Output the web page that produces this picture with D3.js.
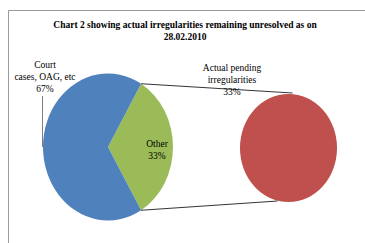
<!DOCTYPE html>
<html><head><meta charset="utf-8">
<script src="https://cdn.jsdelivr.net/npm/d3@7"></script>
<style>body{margin:0;background:#fff}svg{display:block}
svg text{font-family:'Liberation Serif','Times New Roman',Times,'DejaVu Serif',serif !important;}</style>
</head><body>
<script>
const titleLines = ["Chart 2 showing actual irregularities remaining unresolved as on", "28.02.2010"];
const primaryCategories = ["Other", "Court cases, OAG, etc"];
const primaryValues = [33, 67];
const primaryColors = ["#9BBB59", "#4F81BD"];
const secondaryCategories = ["Actual pending irregularities"];
const secondaryValues = [33];
const secondaryColors = ["#C0504D"];

const W = 365, H = 243;
const svg = d3.select("body").append("svg").attr("width", W).attr("height", H);

// frame
svg.append("line").attr("x1", 8.5).attr("y1", 10.5).attr("x2", W).attr("y2", 10.5).attr("stroke", "#9a9a9a").attr("stroke-width", 1);
svg.append("line").attr("x1", 8.5).attr("y1", 10.5).attr("x2", 8.5).attr("y2", H).attr("stroke", "#9a9a9a").attr("stroke-width", 1);

// title
const t = svg.append("text").attr("text-anchor", "middle").style("font-size", "9.5px").style("font-weight", "bold").attr("fill", "#000");
titleLines.forEach((l, i) => t.append("tspan").attr("x", 185).attr("y", 28 + i * 12).text(l));

// primary pie
const total = d3.sum(primaryValues);
const frac0 = primaryValues[0] / total;
const start = Math.PI / 2 - frac0 * Math.PI;
const pie = d3.pie().sort(null).startAngle(start).endAngle(start + 2 * Math.PI);
const cx = 108, cy = 147, r = 65, sy = 73.5 / 65;
const arcs = pie(primaryValues);
const arc = d3.arc().innerRadius(0).outerRadius(r);
const g = svg.append("g").attr("transform", `translate(${cx},${cy}) scale(1,${sy})`);
g.selectAll("path").data(arcs).join("path").attr("d", arc).attr("fill", (d, i) => primaryColors[i]);

// secondary pie
const cx2 = 288.5, cy2 = 148, r2 = 48.5, sy2 = 54 / 48.5;
const pie2 = d3.pie().sort(null);
const g2 = svg.append("g").attr("transform", `translate(${cx2},${cy2}) scale(1,${sy2})`);
g2.selectAll("path").data(pie2(secondaryValues)).join("path")
  .attr("d", d3.arc().innerRadius(0).outerRadius(r2)).attr("fill", (d, i) => secondaryColors[i]);

// connector lines
const pt = a => [cx + r * Math.sin(a), cy - r * sy * Math.cos(a)];
const p1 = pt(arcs[0].startAngle), p2 = pt(arcs[0].endAngle);
svg.append("line").attr("x1", p1[0]).attr("y1", p1[1]).attr("x2", cx2 + 4).attr("y2", cy2 - r2 * sy2 - 1)
  .attr("stroke", "#000").attr("stroke-width", 0.8);
svg.append("line").attr("x1", p2[0]).attr("y1", p2[1]).attr("x2", cx2 - 11).attr("y2", cy2 + r2 * sy2 - 1)
  .attr("stroke", "#000").attr("stroke-width", 0.8);

// labels
function label(lines, x, y) {
  const tx = svg.append("text").attr("text-anchor", "middle").style("font-size", "9.5px").attr("fill", "#000");
  lines.forEach((l, i) => tx.append("tspan").attr("x", x).attr("y", y + i * 12).text(l));
}
const pct = v => Math.round(v / total * 100) + "%";
label(["Court", "cases, OAG, etc", pct(primaryValues[1])], 45, 68);
label([primaryCategories[0], pct(primaryValues[0])], 157, 147);
label(["Actual pending", "irregularities", pct(secondaryValues[0])], 232, 71);

// leader line for Court label
svg.append("line").attr("x1", 42.5).attr("y1", 96).attr("x2", 42.5).attr("y2", 147).attr("stroke", "#7f7f7f").attr("stroke-width", 1);
</script>
</body></html>
